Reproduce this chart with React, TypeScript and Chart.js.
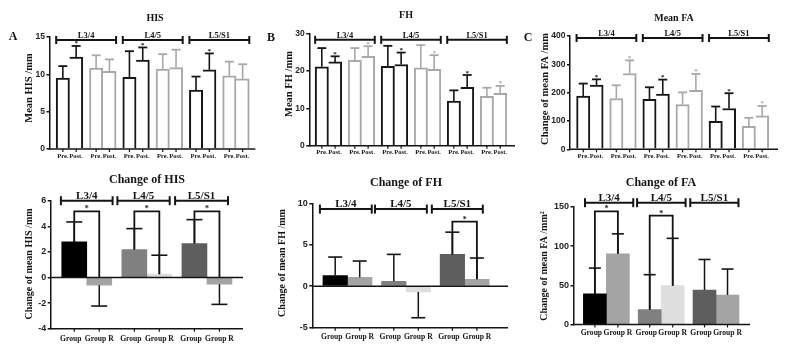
import React, { useEffect, useRef } from 'react';
import { Chart, registerables } from 'chart.js';
Chart.register(...registerables);

// ---------------- data ----------------
const levelLabels = ['L3/4', 'L4/5', 'L5/S1'];
const timeLabels = ['Pre.', 'Post.'];
const groupLabels = ['Group', 'Group R'];

// top panels: pairs = L3/4 black, L3/4 gray, L4/5 black, L4/5 gray, L5/S1 black, L5/S1 gray
const hisPre = [9.5, 10.85, 9.6, 10.7, 7.9, 9.8];
const hisPreSd = [1.6, 1.7, 3.5, 2.0, 1.8, 1.9];
const hisPost = [12.3, 10.4, 11.9, 10.9, 10.6, 9.4];
const hisPostSd = [1.5, 1.6, 1.7, 2.4, 2.2, 1.95];
const hisPostStar = [true, false, true, false, true, false];

const fhPre = [21.1, 22.8, 21.2, 20.8, 11.9, 13.2];
const fhPreSd = [5.0, 3.3, 5.5, 6.1, 2.9, 2.3];
const fhPost = [22.4, 23.9, 21.7, 20.4, 15.6, 14.0];
const fhPostSd = [1.5, 2.7, 3.2, 3.8, 3.3, 2.0];
const fhPostStar = [true, true, true, true, true, true];

const faPre = [188, 179, 176, 158, 99, 81];
const faPreSd = [44, 47, 43, 43, 52, 30];
const faPost = [227, 267, 195, 208, 144, 118];
const faPostSd = [20, 47, 51, 58, 54, 35];
const faPostStar = [true, true, true, true, true, true];

// bottom panels: per level
const hisChgGroup = [2.78, 2.18, 2.65];
const hisChgGroupSd = [1.56, 1.64, 1.87];
const hisChgR = [-0.6, 0.26, -0.52];
const hisChgRSd = [1.63, 1.48, 1.58];
const hisChgSig = [5.17, 5.17, 5.17];

const fhChgGroup = [1.28, 0.6, 3.84];
const fhChgGroupSd = [2.24, 3.24, 2.68];
const fhChgR = [1.08, -0.68, 0.84];
const fhChgRSd = [1.96, 3.12, 2.56];
const fhChgSig = [null, null, 7.8];

const faChgGroup = [39, 19, 44];
const faChgGroupSd = [33, 44.6, 39];
const faChgR = [90.3, 49.6, 37.7];
const faChgRSd = [25.4, 60.4, 33.1];
const faChgSig = [144.5, 139, null];

// ---------------- styles ----------------
const SERIF = "'Liberation Serif', 'Times New Roman', serif";
const SANS = "'Liberation Sans', Arial, sans-serif";
const INK = '#141414';
const topColors = ['#161616', '#a8a8a8', '#161616', '#a8a8a8', '#161616', '#a8a8a8'];
const groupColors = ['#000000', '#808080', '#5e5e5e'];
const rColors = ['#a4a4a4', '#dedede', '#a4a4a4'];
const YW = 25;

type Panel = {
  kind: 'top' | 'change';
  a: number[]; aSd: number[]; b: number[]; bSd: number[];
  bStar?: boolean[]; sig?: (number | null)[];
  area: [number, number, number, number];
  yMin: number; yMax: number; yStep: number; xMin: number; xMax: number;
  barW: number; capW: number;
  bracketVal: number; bracketX?: [number, number][];
  title: string; titleXY: [number, number];
  letter?: string; letterXY?: [number, number];
  yTitle: string; yTitleXY: [number, number];
  labelDy: number;
};

const panels: Panel[] = [
  {
    kind: 'top', a: hisPre, aSd: hisPreSd, b: hisPost, bSd: hisPostSd, bStar: hisPostStar,
    area: [49.5, 37, 255.3, 149], yMin: 0, yMax: 15, yStep: 5, xMin: -0.6, xMax: 5.58,
    barW: 13.3, capW: 9, bracketVal: 14.6,
    title: 'HIS', titleXY: [155, 18], letter: 'A', letterXY: [13, 37],
    yTitle: 'Mean HIS /mm', yTitleXY: [29, 88], labelDy: 7,
  },
  {
    kind: 'top', a: fhPre, aSd: fhPreSd, b: fhPost, bSd: fhPostSd, bStar: fhPostStar,
    area: [309.3, 33.5, 515, 145.7], yMin: 0, yMax: 30, yStep: 10, xMin: -0.58, xMax: 5.65,
    barW: 13.3, capW: 9, bracketVal: 28.3,
    title: 'FH', titleXY: [406, 15.5], letter: 'B', letterXY: [271, 37.5],
    yTitle: 'Mean FH /mm', yTitleXY: [289, 84], labelDy: 7,
  },
  {
    kind: 'top', a: faPre, aSd: faPreSd, b: faPost, bSd: faPostSd, bStar: faPostStar,
    area: [570, 36, 778, 149.3], yMin: 0, yMax: 400, yStep: 100, xMin: -0.6, xMax: 5.68,
    barW: 13.3, capW: 9, bracketVal: 393,
    title: 'Mean FA', titleXY: [674, 18.5], letter: 'C', letterXY: [528, 37.5],
    yTitle: 'Change of mean FA /mm', yTitleXY: [545, 89], labelDy: 7,
  },
  {
    kind: 'change', a: hisChgGroup, aSd: hisChgGroupSd, b: hisChgR, bSd: hisChgRSd, sig: hisChgSig,
    area: [50.7, 200.7, 243, 328.7], yMin: -4, yMax: 6, yStep: 2, xMin: -0.6, xMax: 2.6,
    barW: 25, capW: 16, bracketVal: 6,
    bracketX: [[-0.43, 0.43], [0.51, 1.38], [1.47, 2.35]],
    title: 'Change of HIS', titleXY: [147, 180],
    yTitle: 'Change of mean HIS /mm', yTitleXY: [29.5, 264], labelDy: 10,
  },
  {
    kind: 'change', a: fhChgGroup, aSd: fhChgGroupSd, b: fhChgR, bSd: fhChgRSd, sig: fhChgSig,
    area: [312.3, 203.3, 508, 327.7], yMin: -5, yMax: 10, yStep: 5, xMin: -0.6, xMax: 2.74,
    barW: 24.5, capW: 14, bracketVal: 9.3,
    bracketX: [[-0.47, 0.415], [0.47, 1.355], [1.44, 2.31]],
    title: 'Change of FH', titleXY: [406, 183],
    yTitle: 'Change of mean FH /mm', yTitleXY: [282, 263], labelDy: 9,
  },
  {
    kind: 'change', a: faChgGroup, aSd: faChgGroupSd, b: faChgR, bSd: faChgRSd, sig: faChgSig,
    area: [573.5, 207, 750, 324.5], yMin: 0, yMax: 150, yStep: 50, xMin: -0.6, xMax: 2.62,
    barW: 23, capW: 12, bracketVal: 155.5,
    bracketX: [[-0.39, 0.49], [0.56, 1.445], [1.53, 2.41]],
    title: 'Change of FA', titleXY: [661, 183],
    yTitle: 'Change of mean FA /mm\u00B2', yTitleXY: [544, 266], labelDy: 9,
  },
];

function line(ctx: CanvasRenderingContext2D, x1: number, y1: number, x2: number, y2: number) {
  ctx.beginPath();
  ctx.moveTo(x1, y1);
  ctx.lineTo(x2, y2);
  ctx.stroke();
}

function makePlugin(p: Panel) {
  const top = p.kind === 'top';
  return {
    id: 'decor',
    afterDatasetsDraw(chart: any) {
      const ctx: CanvasRenderingContext2D = chart.ctx;
      const ys = chart.scales.y;
      const ca = chart.chartArea;
      ctx.save();
      ctx.lineCap = 'butt';
      if (!top && p.yMin < 0) {
        ctx.strokeStyle = INK;
        ctx.lineWidth = 1.5;
        const y0 = ys.getPixelForValue(0);
        line(ctx, ca.left, y0, ca.right, y0);
      }
      const series = [
        { v: p.a, sd: p.aSd, star: null as boolean[] | null },
        { v: p.b, sd: p.bSd, star: p.bStar || null },
      ];
      series.forEach((s, d) => {
        const meta = chart.getDatasetMeta(d);
        s.v.forEach((v, i) => {
          const el = meta.data[i];
          const end = v >= 0 ? v + s.sd[i] : v - s.sd[i];
          const y0 = ys.getPixelForValue(v);
          const y1 = ys.getPixelForValue(end);
          ctx.strokeStyle = top ? topColors[i] : INK;
          ctx.lineWidth = top ? 1.6 : 1.5;
          line(ctx, el.x, y0, el.x, y1);
          ctx.lineWidth = top ? 1.8 : 1.6;
          line(ctx, el.x - p.capW / 2, y1, el.x + p.capW / 2, y1);
          if (s.star && s.star[i]) {
            ctx.fillStyle = topColors[i];
            ctx.font = `bold 7px ${SERIF}`;
            ctx.textAlign = 'center';
            ctx.textBaseline = 'alphabetic';
            ctx.fillText('*', el.x, y1 - 0.5);
          }
        });
      });
      if (p.sig) {
        const m0 = chart.getDatasetMeta(0);
        const m1 = chart.getDatasetMeta(1);
        p.sig.forEach((sv, k) => {
          if (sv == null) return;
          const x1 = m0.data[k].x;
          const x2 = m1.data[k].x;
          const ys1 = ys.getPixelForValue(Math.max(p.a[k], 0));
          const ys2 = ys.getPixelForValue(Math.max(p.b[k], 0));
          const yb = ys.getPixelForValue(sv);
          ctx.strokeStyle = INK;
          ctx.lineWidth = 1.8;
          ctx.beginPath();
          ctx.moveTo(x1, ys1);
          ctx.lineTo(x1, yb);
          ctx.lineTo(x2, yb);
          ctx.lineTo(x2, ys2);
          ctx.stroke();
          ctx.fillStyle = INK;
          ctx.font = `bold 8px ${SERIF}`;
          ctx.textAlign = 'center';
          ctx.textBaseline = 'alphabetic';
          ctx.fillText('*', (x1 + x2) / 2, yb);
        });
      }
      ctx.restore();
    },
    afterDraw(chart: any) {
      const ctx: CanvasRenderingContext2D = chart.ctx;
      const ys = chart.scales.y;
      const xs = chart.scales.x;
      const ca = chart.chartArea;
      ctx.save();
      ctx.strokeStyle = INK;
      ctx.fillStyle = INK;
      ctx.lineCap = 'butt';
      ctx.lineWidth = 1.5;
      line(ctx, ca.left - 0.75, ca.bottom, ca.right, ca.bottom);
      ctx.font = top ? `bold 6.5px ${SERIF}` : `bold 7.6px ${SERIF}`;
      ctx.textAlign = 'center';
      ctx.textBaseline = 'middle';
      [0, 1].forEach((d) => {
        const meta = chart.getDatasetMeta(d);
        meta.data.forEach((el: any) => {
          ctx.lineWidth = 1.2;
          line(ctx, el.x, ca.bottom, el.x, ca.bottom + 3);
          const dx = top ? 0 : d === 0 ? -3.5 : 0;
          ctx.fillText(top ? timeLabels[d] : groupLabels[d], el.x + dx, ca.bottom + p.labelDy);
        });
      });
      const by = ys.getPixelForValue(p.bracketVal);
      const m0 = chart.getDatasetMeta(0);
      const m1 = chart.getDatasetMeta(1);
      levelLabels.forEach((lab, k) => {
        let xl: number, xr: number;
        if (top) {
          xl = m0.data[2 * k].x - p.barW / 2;
          xr = m1.data[2 * k + 1].x + p.barW / 2;
        } else {
          xl = xs.getPixelForValue(p.bracketX![k][0]);
          xr = xs.getPixelForValue(p.bracketX![k][1]);
        }
        const h = top ? 4 : 4.5;
        ctx.lineWidth = 2;
        line(ctx, xl, by, xr, by);
        line(ctx, xl, by - h, xl, by + h);
        line(ctx, xr, by - h, xr, by + h);
        ctx.font = top ? `bold 8.5px ${SERIF}` : `bold 11px ${SERIF}`;
        ctx.textAlign = 'center';
        ctx.textBaseline = 'alphabetic';
        ctx.fillText(lab, (xl + xr) / 2, by - 2);
      });
      ctx.font = top ? `bold 10px ${SERIF}` : `bold 12px ${SERIF}`;
      ctx.textAlign = 'center';
      ctx.textBaseline = 'middle';
      ctx.fillText(p.title, p.titleXY[0], p.titleXY[1]);
      if (p.letter && p.letterXY) {
        ctx.font = `bold 12px ${SERIF}`;
        ctx.fillText(p.letter, p.letterXY[0], p.letterXY[1]);
      }
      ctx.translate(p.yTitleXY[0], p.yTitleXY[1]);
      ctx.rotate(-Math.PI / 2);
      ctx.font = top ? `bold 10.5px ${SERIF}` : `bold 10px ${SERIF}`;
      ctx.fillText(p.yTitle, 0, 0);
      ctx.restore();
    },
  };
}

function buildConfig(p: Panel): any {
  const top = p.kind === 'top';
  const [L, T, R, B] = p.area;
  const idx = p.a.map((_, i) => i);
  const dsA: any = {
    label: top ? 'Pre' : 'Group',
    data: idx.map((i) => ({ x: i, y: p.a[i] })),
    barThickness: p.barW,
    borderSkipped: 'start',
  };
  const dsB: any = {
    label: top ? 'Post' : 'Group R',
    data: idx.map((i) => ({ x: i, y: p.b[i] })),
    barThickness: p.barW,
    borderSkipped: 'start',
  };
  if (top) {
    dsA.backgroundColor = '#ffffff';
    dsA.borderColor = topColors;
    dsA.borderWidth = { top: 2, left: 2, right: 2, bottom: 0 };
    dsB.backgroundColor = '#ffffff';
    dsB.borderColor = topColors;
    dsB.borderWidth = { top: 2, left: 0, right: 2, bottom: 0 };
  } else {
    dsA.backgroundColor = groupColors;
    dsA.borderWidth = 0;
    dsB.backgroundColor = rColors;
    dsB.borderWidth = 0;
  }
  return {
    type: 'bar',
    data: { datasets: [dsA, dsB] },
    options: {
      responsive: false,
      animation: false,
      events: [],
      layout: { padding: { left: L - YW, top: T, right: 800 - R, bottom: 353 - B } },
      plugins: { legend: { display: false }, tooltip: { enabled: false }, title: { display: false } },
      scales: {
        x: { type: 'linear', display: false, min: p.xMin, max: p.xMax, offset: false },
        y: {
          min: p.yMin,
          max: p.yMax,
          ticks: {
            stepSize: p.yStep,
            font: { family: SANS, weight: 'bold', size: top ? 8.5 : 9 },
            color: '#222',
            padding: 1.5,
          },
          grid: { display: true, drawOnChartArea: false, drawTicks: true, tickLength: 3, color: INK, lineWidth: 1.5 },
          border: { display: true, color: INK, width: 1.5 },
          afterFit: (s: any) => {
            s.width = YW;
          },
        },
      },
    },
    plugins: [makePlugin(p)],
  };
}

function PanelChart({ p }: { p: Panel }) {
  const ref = useRef<HTMLCanvasElement | null>(null);
  useEffect(() => {
    if (!ref.current) return;
    const chart = new Chart(ref.current, buildConfig(p));
    return () => chart.destroy();
  }, [p]);
  return <canvas ref={ref} width={800} height={353} style={{ position: 'absolute', left: 0, top: 0 }} />;
}

export default function App() {
  return (
    <div style={{ position: 'absolute', left: 0, top: 0, width: 800, height: 353, background: '#ffffff', overflow: 'hidden' }}>
      {panels.map((p, i) => (
        <PanelChart key={i} p={p} />
      ))}
    </div>
  );
}
